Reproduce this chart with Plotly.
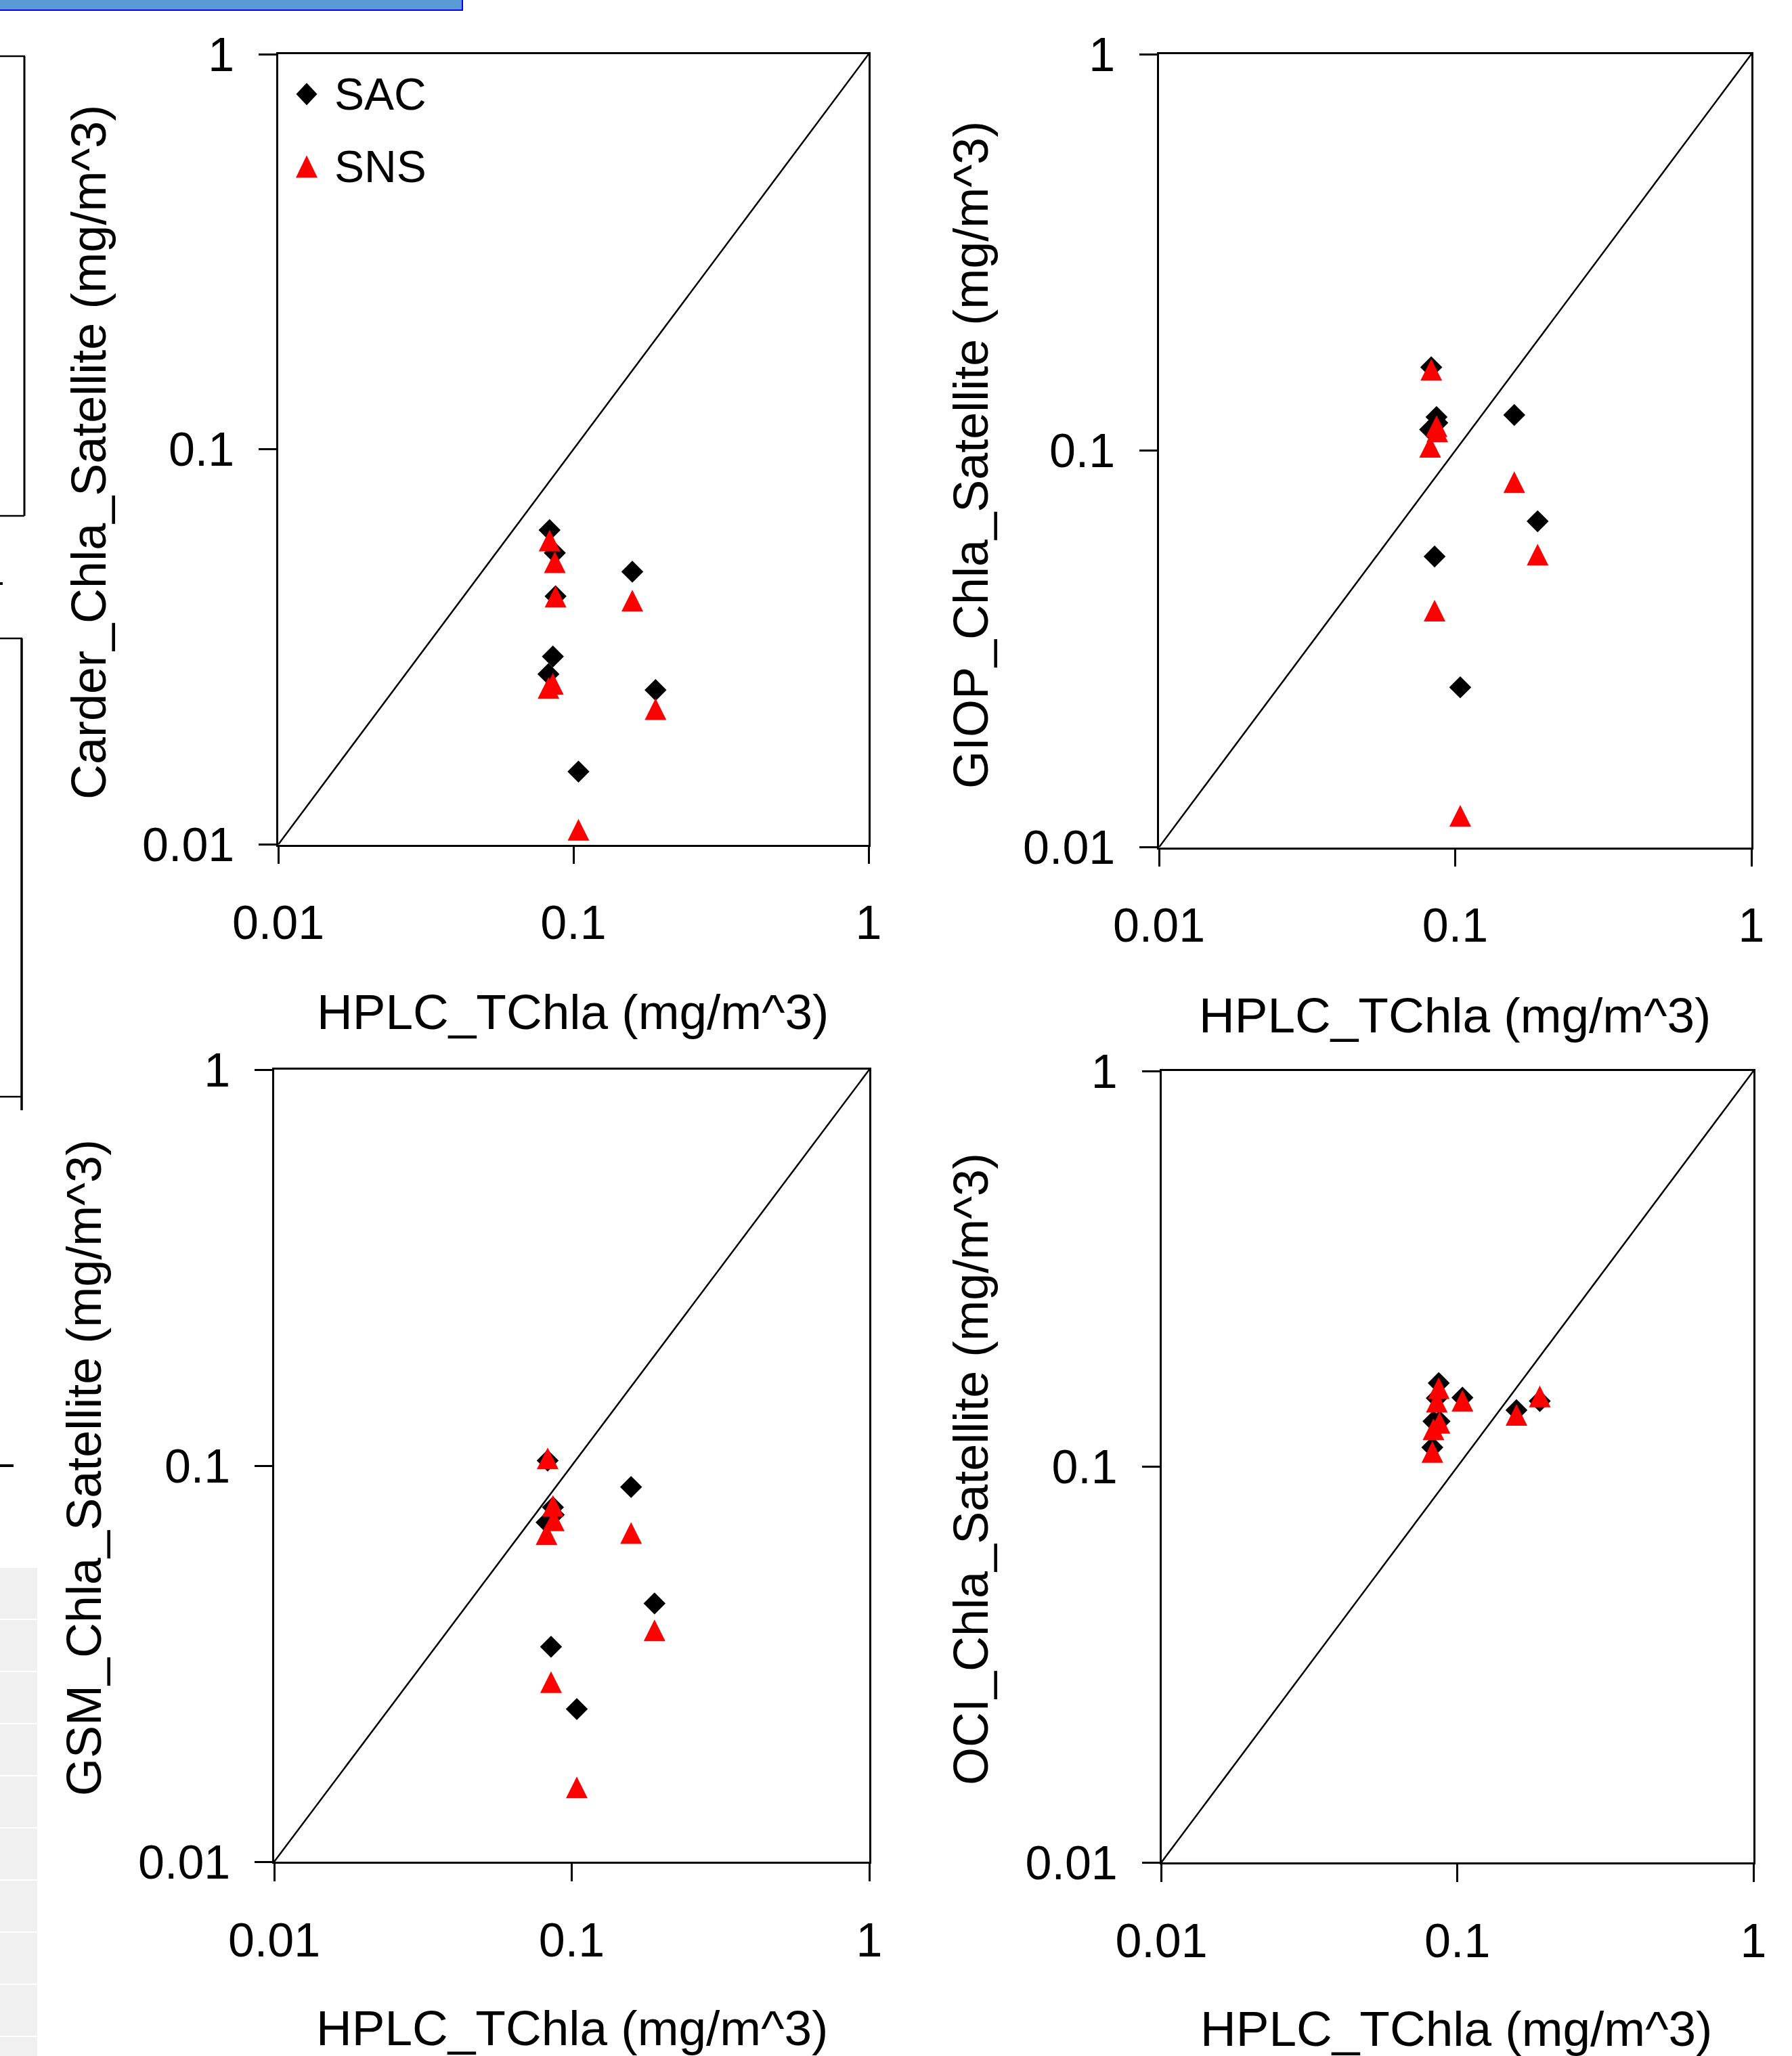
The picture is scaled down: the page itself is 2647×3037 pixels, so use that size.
import plotly.graph_objects as go

# ---------------- data ----------------
HPLC = [0.0823, 0.0830, 0.0852, 0.0865, 0.0870, 0.1040, 0.1583, 0.1898]

CARDER_SAC = [0.0270, 0.0625, 0.0299, 0.0547, 0.0425, 0.0153, 0.0490, 0.0246]
CARDER_SNS = [0.0249, 0.0588, 0.0255, 0.0518, 0.0424, 0.0109, 0.0414, 0.0220]
GIOP_SAC = [0.1131, 0.1623, 0.0541, 0.1216, 0.1176, 0.0253, 0.1230, 0.0664]
GIOP_SNS = [0.1023, 0.1600, 0.0395, 0.1153, 0.1119, 0.0120, 0.0833, 0.0547]
GSM_SAC = [0.0719, 0.1030, 0.0349, 0.0785, 0.0752, 0.0243, 0.0883, 0.0449]
GSM_SNS = [0.0671, 0.1043, 0.0284, 0.0791, 0.0728, 0.0154, 0.0676, 0.0384]
OCI_SAC = [0.1119, 0.1302, 0.1490, 0.1627, 0.1302, 0.1494, 0.1389, 0.1465]
OCI_SNS = [0.1089, 0.1243, 0.1459, 0.1580, 0.1290, 0.1469, 0.1352, 0.1505]

ONE_TO_ONE = [0.01, 1]
TICK_VALS = [0.01, 0.1, 1]
TICK_TEXT = ["0.01", "0.1", "1"]
SERIES_NAMES = ["SAC", "SNS"]
Y_TITLES = ["Carder_Chla_Satellite (mg/m^3)", "GIOP_Chla_Satellite (mg/m^3)",
            "GSM_Chla_Satellite (mg/m^3)", "OCI_Chla_Satellite (mg/m^3)"]
X_TITLE = "HPLC_TChla (mg/m^3)"

# ---------------- layout helpers ----------------
W, H = 2647, 3037
FONT = "Liberation Sans, Arial, sans-serif"


def px(x):
    return x / W


def py(y):
    return 1 - y / H


# plot-area pixel boxes: (left, right, top, bottom)
BOXES = [
    (411, 1283, 80, 1247.5),
    (1712, 2587, 80, 1251.5),
    (405, 1284, 1580, 2750),
    (1715.5, 2590, 1582, 2751),
]
YTITLE_POS = [(131, 668), (1434, 672), (124, 2168), (1434, 2170)]
XTITLE_POS = [(846, 1495), (2149, 1499), (845, 2995), (2151, 2996)]

SAC_DATA = [CARDER_SAC, GIOP_SAC, GSM_SAC, OCI_SAC]
SNS_DATA = [CARDER_SNS, GIOP_SNS, GSM_SNS, OCI_SNS]

fig = go.Figure()
layout = dict(
    width=W, height=H,
    margin=dict(l=0, r=0, t=0, b=0, pad=0, autoexpand=False),
    paper_bgcolor="white", plot_bgcolor="white",
    showlegend=False,
    font=dict(family=FONT, color="black"),
)
annotations = []
shapes = []

for i in range(4):
    n = "" if i == 0 else str(i + 1)
    xa, ya = "x" + n, "y" + n
    l, r, t, b = BOXES[i]
    common = dict(
        type="log", range=[-2, 0], showline=True, linecolor="black",
        linewidth=2.5, mirror=True, ticks="outside", ticklen=26,
        tickwidth=2.5, tickcolor="black", tickvals=TICK_VALS,
        ticktext=TICK_TEXT, tickfont=dict(family=FONT, size=70, color="black"),
        showgrid=False, zeroline=False, fixedrange=True, automargin=False,
    )
    layout["xaxis" + n] = dict(common, domain=[px(l), px(r)], anchor=ya,
                               ticklabelstandoff=27)
    layout["yaxis" + n] = dict(common, domain=[py(b), py(t)], anchor=xa,
                               ticklabelstandoff=22)

    fig.add_trace(go.Scatter(x=ONE_TO_ONE, y=ONE_TO_ONE, mode="lines",
                             line=dict(color="black", width=2.5),
                             xaxis=xa, yaxis=ya, hoverinfo="skip"))
    fig.add_trace(go.Scatter(x=HPLC, y=SAC_DATA[i], mode="markers",
                             name=SERIES_NAMES[0],
                             marker=dict(symbol="diamond", size=25, color="black",
                                         line=dict(width=0)),
                             xaxis=xa, yaxis=ya, cliponaxis=False))
    fig.add_trace(go.Scatter(x=HPLC, y=SNS_DATA[i], mode="markers",
                             name=SERIES_NAMES[1],
                             marker=dict(symbol="arrow-down", angle=180, standoff=16,
                                         size=32, color="#FF0000",
                                         line=dict(width=0)),
                             xaxis=xa, yaxis=ya, cliponaxis=False))

    annotations.append(dict(text=Y_TITLES[i], x=px(YTITLE_POS[i][0]),
                            y=py(YTITLE_POS[i][1]), xref="paper", yref="paper",
                            textangle=-90, showarrow=False, xanchor="center",
                            yanchor="middle", font=dict(size=72, family=FONT)))
    annotations.append(dict(text=X_TITLE, x=px(XTITLE_POS[i][0]),
                            y=py(XTITLE_POS[i][1]), xref="paper", yref="paper",
                            showarrow=False, xanchor="center", yanchor="middle",
                            font=dict(size=73, family=FONT)))

# ---------------- legend (inside first panel) ----------------
lx, ly1, ly2 = 453, 139, 246
shapes.append(dict(type="path", xref="paper", yref="paper", fillcolor="black",
                   line=dict(width=0),
                   path=f"M{px(lx)},{py(ly1-16.5)} L{px(lx+15.5)},{py(ly1)} "
                        f"L{px(lx)},{py(ly1+16.5)} L{px(lx-15.5)},{py(ly1)} Z"))
shapes.append(dict(type="path", xref="paper", yref="paper", fillcolor="#FF0000",
                   line=dict(width=0),
                   path=f"M{px(lx)},{py(ly2-16.5)} L{px(lx+16)},{py(ly2+16.5)} "
                        f"L{px(lx-16)},{py(ly2+16.5)} Z"))
for name, yy in zip(SERIES_NAMES, [ly1, ly2]):
    annotations.append(dict(text=name, x=px(492), y=py(yy), xref="paper",
                            yref="paper", showarrow=False, xanchor="left",
                            yanchor="middle", font=dict(size=66, family=FONT)))

# ---------------- screenshot edge fragments ----------------
def line(x0, y0, x1, y1, w=2.5, c="black"):
    return dict(type="line", xref="paper", yref="paper", x0=px(x0), y0=py(y0),
                x1=px(x1), y1=py(y1), line=dict(color=c, width=w))


shapes.append(dict(type="rect", xref="paper", yref="paper", x0=px(-3), x1=px(683),
                   y0=py(-3), y1=py(15), fillcolor="#5B9BD5",
                   line=dict(color="#0000FF", width=2)))
shapes += [line(0, 83, 37, 83), line(36, 83, 36, 762, 3), line(0, 762, 36, 762),
           line(0, 862, 4, 862, 4),
           line(0, 943, 33, 943), line(32, 943, 32, 1640, 3.5), line(0, 1620, 32, 1620),
           line(0, 2165, 20, 2165, 4)]
yy = 2316
while yy < H:
    shapes.append(dict(type="rect", xref="paper", yref="paper", x0=px(-2), x1=px(55),
                       y0=py(yy), y1=py(min(yy + 75, H + 2)), fillcolor="#F0F0F0",
                       line=dict(width=0)))
    yy += 77

layout["annotations"] = annotations
layout["shapes"] = shapes
fig.update_layout(**layout)

fig.write_html("out.html", config={"displayModeBar": False},
               post_script="document.body.style.margin='0';document.body.style.overflow='hidden';")
